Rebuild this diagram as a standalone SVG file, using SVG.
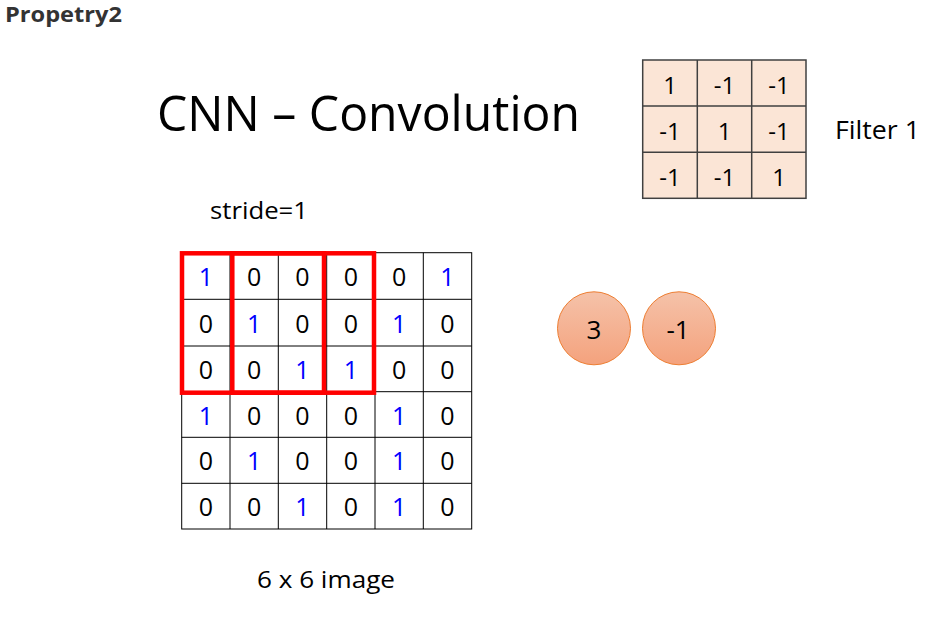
<svg xmlns="http://www.w3.org/2000/svg" width="931" height="618" viewBox="0 0 931 618">
<defs>
<linearGradient id="cg" x1="0" y1="0" x2="0" y2="1">
<stop offset="0" stop-color="#F5C2A9"/>
<stop offset="1" stop-color="#F4A27D"/>
</linearGradient>
</defs>
<style>
text{font-family:"Open Sans","Liberation Sans",sans-serif;fill:#000}
.d{font-size:25px;text-anchor:middle}
.b{fill:#0000FF}
.f{font-size:24px;text-anchor:middle}
.g{fill:none;stroke:#000;stroke-width:1}
.fc{fill:#FBE5D6;stroke:#404040;stroke-width:1.5}
.red{fill:none;stroke:#FF0000;stroke-width:4.5}
.c{fill:url(#cg);stroke:#ED7D31;stroke-width:1}
</style>
<rect width="931" height="618" fill="#fff"/>
<text x="5" y="22" style="font-size:22px;font-weight:700;fill:#333" textLength="117" lengthAdjust="spacingAndGlyphs">Propetry2</text>
<text id="title" x="157" y="131" style="font-size:50px" textLength="423" lengthAdjust="spacingAndGlyphs">CNN – Convolution</text>
<text id="stride" x="210" y="218.5" style="font-size:23px" textLength="98" lengthAdjust="spacingAndGlyphs">stride=1</text>
<text id="caption" x="257" y="588" style="font-size:24px" textLength="138" lengthAdjust="spacingAndGlyphs">6 x 6 image</text>

<g id="filter">
<rect class="fc" x="642.7" y="60" width="163.3" height="138.3"/>
<path class="g" style="stroke:#404040;stroke-width:1.5" d="M697.3 60V198.3M751.7 60V198.3M642.7 106H806M642.7 152.3H806"/>
<text class="f" x="670" y="93.5">1</text><text class="f" x="724.5" y="93.5">-1</text><text class="f" x="779" y="93.5">-1</text>
<text class="f" x="670" y="139.5">-1</text><text class="f" x="724.5" y="139.5">1</text><text class="f" x="779" y="139.5">-1</text>
<text class="f" x="670" y="185.5">-1</text><text class="f" x="724.5" y="185.5">-1</text><text class="f" x="779" y="185.5">1</text>
</g>
<text id="filterlabel" x="835" y="139" style="font-size:26px" textLength="85" lengthAdjust="spacingAndGlyphs">Filter 1</text>

<g id="image">
<rect class="g" x="181.7" y="252.7" width="290" height="276.3"/>
<path class="g" d="M230 252.7V529M278.3 252.7V529M326.7 252.7V529M375 252.7V529M423.3 252.7V529M181.7 299.3H471.7M181.7 346H471.7M181.7 391.7H471.7M181.7 437.3H471.7M181.7 483.3H471.7"/>
<g class="d">
<text x="205.8" y="286" class="d b">1</text><text x="254.2" y="286" class="d">0</text><text x="302.5" y="286" class="d">0</text><text x="350.8" y="286" class="d">0</text><text x="399.2" y="286" class="d">0</text><text x="447.5" y="286" class="d b">1</text>
<text x="205.8" y="332.7" class="d">0</text><text x="254.2" y="332.7" class="d b">1</text><text x="302.5" y="332.7" class="d">0</text><text x="350.8" y="332.7" class="d">0</text><text x="399.2" y="332.7" class="d b">1</text><text x="447.5" y="332.7" class="d">0</text>
<text x="205.8" y="378.9" class="d">0</text><text x="254.2" y="378.9" class="d">0</text><text x="302.5" y="378.9" class="d b">1</text><text x="350.8" y="378.9" class="d b">1</text><text x="399.2" y="378.9" class="d">0</text><text x="447.5" y="378.9" class="d">0</text>
<text x="205.8" y="424.5" class="d b">1</text><text x="254.2" y="424.5" class="d">0</text><text x="302.5" y="424.5" class="d">0</text><text x="350.8" y="424.5" class="d">0</text><text x="399.2" y="424.5" class="d b">1</text><text x="447.5" y="424.5" class="d">0</text>
<text x="205.8" y="470.3" class="d">0</text><text x="254.2" y="470.3" class="d b">1</text><text x="302.5" y="470.3" class="d">0</text><text x="350.8" y="470.3" class="d">0</text><text x="399.2" y="470.3" class="d b">1</text><text x="447.5" y="470.3" class="d">0</text>
<text x="205.8" y="516.2" class="d">0</text><text x="254.2" y="516.2" class="d">0</text><text x="302.5" y="516.2" class="d b">1</text><text x="350.8" y="516.2" class="d">0</text><text x="399.2" y="516.2" class="d b">1</text><text x="447.5" y="516.2" class="d">0</text>
</g>
</g>

<g id="windows">
<rect class="red" x="182" y="253.3" width="142" height="139.4"/>
<rect class="red" x="232.3" y="253.3" width="141.7" height="139.4"/>
</g>

<g id="out1">
<circle class="c" cx="594" cy="328.3" r="36.5"/>
<text x="594" y="338.5" style="font-size:26px;text-anchor:middle">3</text>
</g>
<g id="out2">
<circle class="c" cx="679" cy="328.3" r="36.5"/>
<text x="678" y="338.5" style="font-size:26px;text-anchor:middle">-1</text>
</g>
</svg>
